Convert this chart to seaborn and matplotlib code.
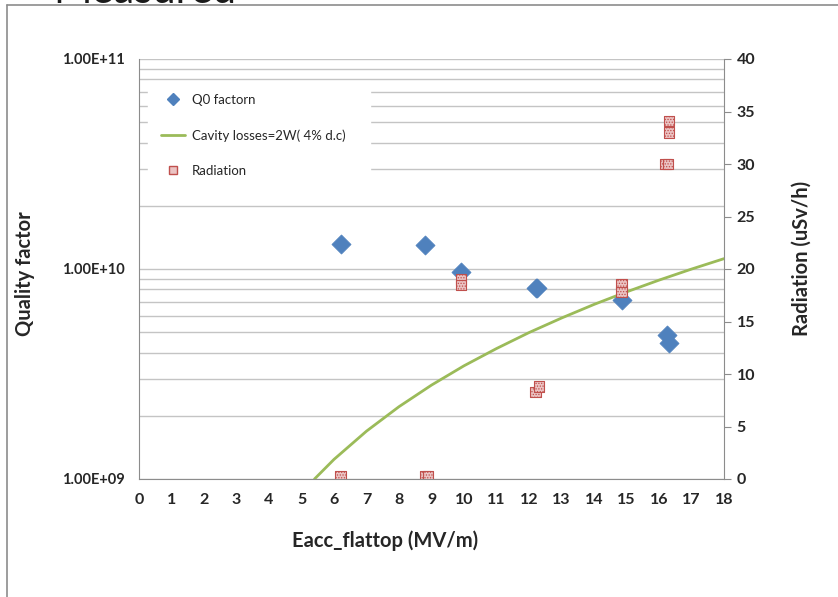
import matplotlib
matplotlib.use("Agg")
import matplotlib.pyplot as plt
from matplotlib.lines import Line2D
from matplotlib.ticker import FixedLocator, LogLocator, NullFormatter, MultipleLocator
import seaborn as sns

# values
q0_eacc = [6.2, 8.8, 9.9, 12.2, 12.25, 14.85, 16.25, 16.3]
q0_value = [1.32e10, 1.30e10, 9.7e9, 8.1e9, 8.1e9, 7.1e9, 4.85e9, 4.45e9]

cavity_eacc = [5.4, 6, 7, 8, 9, 10, 11, 12, 13, 14, 15, 16, 17, 18]
cavity_q = [1.0e9, 1.24e9, 1.69e9, 2.21e9, 2.80e9, 3.46e9, 4.18e9, 4.98e9,
            5.84e9, 6.78e9, 7.78e9, 8.85e9, 9.99e9, 1.12e10]

rad_eacc = [6.2, 8.8, 8.9, 9.9, 9.9, 12.2, 12.3, 14.85, 14.85, 16.2, 16.28, 16.3, 16.3]
rad_value = [0.3, 0.3, 0.3, 19.0, 18.5, 8.3, 8.8, 18.6, 17.8, 30.0, 30.0, 33.0, 34.1]

x_ticks = list(range(0, 19))
left_ticks = [1e9, 1e10, 1e11]
left_labels = ["1.00E+09", "1.00E+10", "1.00E+11"]
right_ticks = list(range(0, 41, 5))

legend_labels = ["Q0 factorn", "Cavity losses=2W( 4% d.c)", "Radiation"]

blue = "#4F81BD"
green = "#9BBB59"
red_edge = "#C0504D"
red_face = "#EBC3C3"
gray = "#8C8C8C"
grid_gray = "#C4C4C4"

sns.set_style("white")
plt.rcParams["font.family"] = ["Lato", "DejaVu Sans"]
plt.rcParams["hatch.color"] = "#D08080"
plt.rcParams["hatch.linewidth"] = 0.6

fig = plt.figure(figsize=(8.38, 5.97), dpi=100)
ax = fig.add_axes([139 / 838, 1 - 479 / 597, 585 / 838, 420 / 597])
ax2 = ax.twinx()

# left axis: quality factor (log)
sns.lineplot(x=cavity_eacc, y=cavity_q, ax=ax, color=green, lw=2, legend=False, zorder=3)
sns.scatterplot(x=q0_eacc, y=q0_value, ax=ax, marker="D", s=95, color=blue,
                edgecolor=blue, linewidth=0.5, legend=False, zorder=4)
ax.set_yscale("log")
ax.set_ylim(1e9, 1e11)
ax.set_xlim(0, 18)
ax.yaxis.set_major_locator(FixedLocator(left_ticks))
ax.set_yticklabels(left_labels, fontweight="bold", fontsize=10.5)
ax.yaxis.set_minor_locator(LogLocator(base=10, subs=range(2, 10)))
ax.yaxis.set_minor_formatter(NullFormatter())
ax.grid(False)
ax.grid(which="both", axis="y", color=grid_gray, lw=1)
ax.tick_params(axis="y", which="both", length=0, pad=10)

ax.set_xticks(x_ticks)
ax.set_xticklabels([str(t) for t in x_ticks], fontweight="bold", fontsize=11.5)
ax.xaxis.set_minor_locator(MultipleLocator(0.5))
ax.tick_params(axis="x", which="both", direction="in", length=4, color=gray, pad=10)

for side in ["top", "right"]:
    ax.spines[side].set_visible(False)
for side in ["left", "bottom"]:
    ax.spines[side].set_color(gray)

ax.set_xlabel("Eacc_flattop (MV/m)", fontsize=14.5, fontweight="bold")
ax.xaxis.set_label_coords(0.42, -0.122)
ax.set_ylabel("Quality factor", fontsize=14.5, fontweight="bold")
ax.yaxis.set_label_coords(-0.178, 0.49)

# right axis: radiation
sns.scatterplot(x=rad_eacc, y=rad_value, ax=ax2, marker="s", s=55, color=red_face,
                edgecolor=red_edge, linewidth=0.8, hatch="......", legend=False, zorder=5)
ax2.set_ylim(0, 40)
ax2.set_yticks(right_ticks)
ax2.set_yticklabels([str(t) for t in right_ticks], fontweight="bold", fontsize=11.5)
ax2.tick_params(axis="y", direction="out", length=5, color=gray, pad=4)
for side in ["top", "left", "bottom"]:
    ax2.spines[side].set_visible(False)
ax2.spines["right"].set_color(gray)
ax2.set_ylabel("Radiation (uSv/h)", fontsize=14.5, fontweight="bold")
ax2.yaxis.set_label_coords(1.116, 0.526)

handles = [
    Line2D([], [], marker="D", ls="", color=blue, markersize=6.5),
    Line2D([], [], color=green, lw=2),
    Line2D([], [], marker="s", ls="", markerfacecolor=red_face,
           markeredgecolor=red_edge, markersize=6),
]
leg = ax2.legend(handles, legend_labels, loc="upper left",
                 bbox_to_anchor=(0.015, 0.948, 0.38, 0.0), mode="expand",
                 frameon=True, fancybox=False, facecolor="white", edgecolor="white",
                 framealpha=1, fontsize=9.5, labelspacing=1.75, handlelength=1.8,
                 handletextpad=0.55, borderpad=1.0, borderaxespad=0)
leg.set_zorder(10)

# slide frame and cut-off heading
fig.add_artist(Line2D([7 / 838, 1], [1 - 5 / 597, 1 - 5 / 597], color=gray, lw=1.2))
fig.add_artist(Line2D([7 / 838, 7 / 838], [0, 1 - 5 / 597], color=gray, lw=1.2))
fig.text(53 / 838, 1 - 3 / 597, "Measured", fontsize=30, va="baseline", color="#1a1a1a")

fig.savefig("out.png", dpi=100)
